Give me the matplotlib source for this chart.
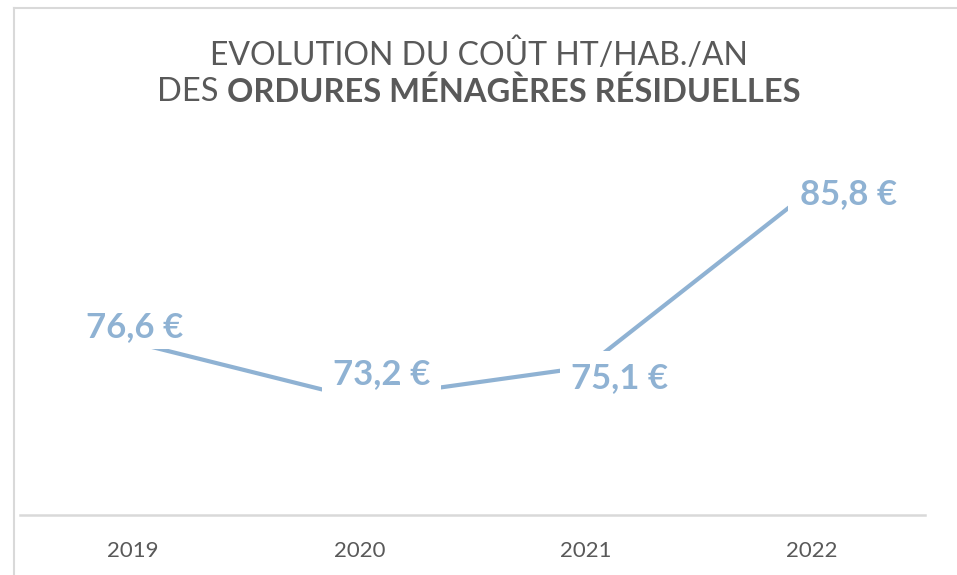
import matplotlib.pyplot as plt
from matplotlib.lines import Line2D

# data
years = ["2019", "2020", "2021", "2022"]
costs = [76.6, 73.2, 75.1, 85.8]
labels = ["76,6 €", "73,2 €", "75,1 €", "85,8 €"]

# label placement relative to the point, in pixels (right, up), and box padding
label_offsets = [(1, 15), (22, 25), (34, -11), (37, -5)]
label_pads = [0.15, 0.32, 0.33, 0.35]

line_color = "#8fb2d3"
text_color = "#595959"
grid_color = "#d9d9d9"
font = ["Lato", "DejaVu Sans"]

W, H = 957, 575
fig = plt.figure(figsize=(W / 100, H / 100), dpi=100)
fig.patch.set_facecolor("white")

# chart border (top and left visible)
fig.add_artist(Line2D([14 / W, 1], [1 - 8 / H, 1 - 8 / H], color=grid_color, lw=1.5))
fig.add_artist(Line2D([14 / W, 14 / W], [0, 1 - 8 / H], color=grid_color, lw=1.5))

ax = fig.add_axes([20 / W, 60 / H, 905 / W, 362 / H])
x = list(range(len(years)))
ax.plot(x, costs, color=line_color, lw=3, solid_capstyle="butt", zorder=2)
ax.set_xlim(-0.5, 3.5)
ax.set_ylim(66.2, 88)

for i, (xi, yi) in enumerate(zip(x, costs)):
    dx, dy = label_offsets[i]
    ax.annotate(labels[i], (xi, yi), xytext=(dx * 0.72, dy * 0.72),
                textcoords="offset points", ha="center", va="center",
                fontsize=25, fontweight="bold", color=line_color,
                family=font, zorder=3,
                bbox=dict(boxstyle="square,pad=%.2f" % label_pads[i], fc="white", ec="none"))

for s in ["top", "right", "left"]:
    ax.spines[s].set_visible(False)
ax.spines["bottom"].set_color(grid_color)
ax.spines["bottom"].set_linewidth(1.8)
ax.set_yticks([])
ax.set_xticks(x)
ax.set_xticklabels(years, fontsize=16, color=text_color, family=font)
ax.tick_params(axis="x", length=0, pad=19)

# title, two lines, second partly bold
fig.text(0.5, 1 - 55 / H, "EVOLUTION DU COÛT HT/HAB./AN", ha="center", va="center",
         fontsize=23, color=text_color, family=font)
t1 = fig.text(0.5, 1 - 92 / H, "DES ", ha="left", va="center",
              fontsize=23.5, color=text_color, family=font)
t2 = fig.text(0.5, 1 - 92 / H, "ORDURES MÉNAGÈRES RÉSIDUELLES", ha="left", va="center",
              fontsize=23.5, color=text_color, family=font, fontweight="bold")
r = fig.canvas.get_renderer()
w1 = t1.get_window_extent(r).width
w2 = t2.get_window_extent(r).width
start = (W - w1 - w2) / 2
t1.set_x(start / W)
t2.set_x((start + w1) / W)

fig.savefig("out.png", dpi=100)
